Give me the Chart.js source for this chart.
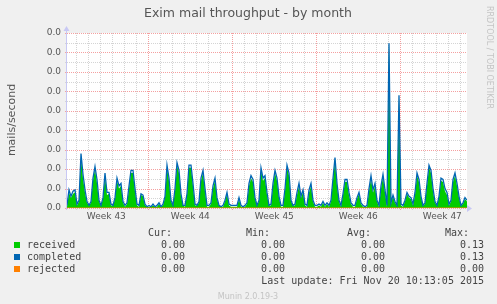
<!DOCTYPE html>
<html>
<head>
<meta charset="utf-8">
<script src="https://cdn.jsdelivr.net/npm/chart.js@4"></script>
<style>
  body { margin: 0; background: #f0f0f0; }
  #wrap { width: 497px; height: 304px; }
</style>
</head>
<body>
<div id="wrap"><canvas id="chartCanvas" width="497" height="304"></canvas></div>
<script>
// samples every 4 hours, starting at the left edge of the graph (days since start)
const SAMPLES_PER_DAY = 6;
const DAYS_SHOWN = 200 / SAMPLES_PER_DAY;
const FIRST_WEEK_START = 6.78; // first Monday 00:00, in days after graph start

const weekLabels = ['Week 43', 'Week 44', 'Week 45', 'Week 46', 'Week 47'];
const yTicks = [0, 0.015, 0.03, 0.045, 0.06, 0.075, 0.09, 0.105, 0.12, 0.135];
// munin prints every tick with one decimal, so they all read 0.0
const yTickLabels = ['0.0', '0.0', '0.0', '0.0', '0.0', '0.0', '0.0', '0.0', '0.0', '0.0'];

const received = [
  0.001, 0.012, 0.008, 0.011, 0.012, 0.002, 0.005, 0.039, 0.023, 0.012,
  0.004, 0.002, 0.004, 0.021, 0.030, 0.019, 0.005, 0.002, 0.007, 0.025,
  0.010, 0.011, 0.002, 0.002, 0.007, 0.021, 0.015, 0.017, 0.004, 0.001,
  0.003, 0.015, 0.027, 0.027, 0.013, 0.002, 0.001, 0.010, 0.009, 0.002,
  0.001, 0.001, 0.001, 0.002, 0.001, 0.001, 0.003, 0.001, 0.002, 0.008,
  0.031, 0.021, 0.005, 0.002, 0.013, 0.033, 0.027, 0.009, 0.002, 0.001,
  0.010, 0.031, 0.031, 0.017, 0.002, 0.002, 0.004, 0.021, 0.027, 0.013,
  0.001, 0.001, 0.003, 0.015, 0.021, 0.007, 0.002, 0.001, 0.001, 0.005,
  0.011, 0.002, 0.001, 0.001, 0.001, 0.001, 0.007, 0.001, 0.001, 0.001,
  0.003, 0.017, 0.023, 0.020, 0.007, 0.002, 0.005, 0.029, 0.021, 0.023,
  0.010, 0.002, 0.002, 0.017, 0.027, 0.021, 0.008, 0.001, 0.001, 0.013,
  0.031, 0.025, 0.005, 0.002, 0.002, 0.010, 0.017, 0.008, 0.012, 0.002,
  0.001, 0.012, 0.017, 0.005, 0.001, 0.001, 0.002, 0.001, 0.004, 0.001,
  0.003, 0.001, 0.005, 0.021, 0.037, 0.017, 0.005, 0.001, 0.010, 0.020,
  0.020, 0.010, 0.003, 0.001, 0.001, 0.007, 0.011, 0.003, 0.001, 0.001,
  0.001, 0.013, 0.023, 0.012, 0.017, 0.005, 0.001, 0.015, 0.024, 0.012,
  0.001, 0.127, 0.003, 0.009, 0.004, 0.002, 0.085, 0.002, 0.001, 0.005,
  0.011, 0.008, 0.007, 0.002, 0.010, 0.025, 0.020, 0.008, 0.002, 0.003,
  0.017, 0.031, 0.027, 0.013, 0.004, 0.002, 0.008, 0.021, 0.020, 0.013,
  0.010, 0.002, 0.005, 0.020, 0.025, 0.017, 0.008, 0.002, 0.003, 0.007,
  0.005
];

const completed = [
  0.002, 0.014, 0.009, 0.013, 0.014, 0.003, 0.006, 0.042, 0.026, 0.014,
  0.005, 0.002, 0.005, 0.023, 0.032, 0.022, 0.006, 0.002, 0.008, 0.027,
  0.012, 0.012, 0.003, 0.002, 0.008, 0.023, 0.017, 0.019, 0.005, 0.002,
  0.004, 0.017, 0.029, 0.029, 0.015, 0.003, 0.002, 0.011, 0.010, 0.003,
  0.001, 0.002, 0.001, 0.003, 0.001, 0.002, 0.004, 0.001, 0.003, 0.009,
  0.033, 0.023, 0.006, 0.002, 0.015, 0.035, 0.029, 0.011, 0.002, 0.002,
  0.011, 0.033, 0.033, 0.019, 0.003, 0.002, 0.005, 0.023, 0.029, 0.015,
  0.002, 0.002, 0.004, 0.017, 0.023, 0.008, 0.002, 0.001, 0.002, 0.006,
  0.012, 0.003, 0.002, 0.002, 0.002, 0.002, 0.008, 0.002, 0.001, 0.002,
  0.004, 0.019, 0.025, 0.022, 0.008, 0.002, 0.006, 0.031, 0.023, 0.025,
  0.012, 0.002, 0.003, 0.019, 0.029, 0.023, 0.009, 0.002, 0.002, 0.015,
  0.033, 0.027, 0.006, 0.002, 0.003, 0.012, 0.019, 0.009, 0.014, 0.003,
  0.002, 0.014, 0.019, 0.006, 0.002, 0.002, 0.003, 0.002, 0.005, 0.002,
  0.004, 0.002, 0.006, 0.023, 0.039, 0.019, 0.006, 0.002, 0.011, 0.022,
  0.022, 0.012, 0.004, 0.002, 0.002, 0.008, 0.012, 0.004, 0.002, 0.001,
  0.002, 0.015, 0.025, 0.014, 0.019, 0.006, 0.002, 0.017, 0.026, 0.014,
  0.002, 0.127, 0.004, 0.010, 0.005, 0.002, 0.087, 0.003, 0.002, 0.006,
  0.012, 0.009, 0.008, 0.003, 0.012, 0.027, 0.022, 0.009, 0.002, 0.004,
  0.019, 0.033, 0.029, 0.015, 0.005, 0.002, 0.009, 0.023, 0.022, 0.015,
  0.012, 0.003, 0.006, 0.022, 0.027, 0.019, 0.009, 0.002, 0.004, 0.008,
  0.006
];

const rejected = [
  0, 0, 0, 0, 0, 0, 0, 0, 0, 0, 0, 0, 0, 0, 0, 0, 0, 0, 0, 0,
  0, 0, 0, 0, 0, 0, 0, 0, 0, 0, 0, 0, 0, 0, 0, 0, 0, 0, 0, 0,
  0, 0, 0, 0, 0, 0, 0, 0, 0, 0, 0, 0, 0, 0, 0, 0, 0, 0, 0, 0,
  0, 0, 0, 0, 0, 0, 0, 0, 0, 0, 0, 0, 0, 0, 0, 0, 0, 0, 0, 0,
  0, 0, 0, 0, 0, 0, 0, 0, 0, 0, 0, 0, 0, 0, 0, 0, 0, 0, 0, 0,
  0, 0, 0, 0, 0, 0, 0, 0, 0, 0, 0, 0, 0, 0, 0, 0, 0, 0, 0, 0,
  0, 0, 0, 0, 0, 0, 0, 0, 0, 0, 0, 0, 0, 0, 0, 0, 0, 0, 0, 0,
  0, 0, 0, 0, 0, 0, 0, 0, 0, 0, 0, 0, 0, 0, 0, 0, 0, 0, 0, 0,
  0, 0, 0, 0, 0, 0, 0, 0, 0, 0, 0, 0, 0, 0, 0, 0, 0, 0, 0, 0,
  0, 0, 0, 0, 0, 0, 0, 0, 0, 0, 0, 0, 0, 0, 0, 0, 0, 0, 0, 0,
  0
];

const seriesNames = ['received', 'completed', 'rejected'];
const seriesColors = ['#00cc00', '#0066b3', '#ff8000'];
const statCur = ['0.00', '0.00', '0.00'];
const statMin = ['0.00', '0.00', '0.00'];
const statAvg = ['0.00', '0.00', '0.00'];
const statMax = ['0.13', '0.13', '0.00'];

const toPoints = arr => arr.map((v, i) => ({ x: i / SAMPLES_PER_DAY, y: v }));

function dotted(ctx, x1, y1, x2, y2, color) {
    ctx.strokeStyle = color;
    ctx.beginPath();
    ctx.moveTo(x1, y1);
    ctx.lineTo(x2, y2);
    ctx.stroke();
}

const muninDecor = {
    id: 'muninDecor',
    beforeDraw(chart) {
        const { ctx, chartArea: a } = chart;
        ctx.save();
        ctx.fillStyle = '#f0f0f0';
        ctx.fillRect(0, 0, chart.width, chart.height);
        ctx.fillStyle = '#ffffff';
        ctx.fillRect(a.left, a.top, a.right - a.left, a.bottom - a.top);
        ctx.restore();
    },
    beforeDatasetsDraw(chart) {
        const { ctx, chartArea: a, scales: { x, y } } = chart;
        ctx.save();
        ctx.lineWidth = 1;
        ctx.setLineDash([1, 1]);
        // minor: one line per day, half steps on y
        for (let d = FIRST_WEEK_START % 1; d < DAYS_SHOWN; d += 1) {
            const px = Math.round(x.getPixelForValue(d)) + 0.5;
            dotted(ctx, px, a.top, px, a.bottom + 2, '#d4d4d4');
        }
        for (let i = 0; i < yTicks.length - 1; i++) {
            const py = Math.round(y.getPixelForValue((yTicks[i] + yTicks[i + 1]) / 2)) + 0.5;
            dotted(ctx, a.left - 2, py, a.right, py, '#d4d4d4');
        }
        // major: week boundaries and y ticks
        for (let d = FIRST_WEEK_START; d < DAYS_SHOWN; d += 7) {
            const px = Math.round(x.getPixelForValue(d)) + 0.5;
            dotted(ctx, px, a.top, px, a.bottom + 2, '#f4a0a0');
        }
        yTicks.forEach(t => {
            const py = Math.round(y.getPixelForValue(t)) + 0.5;
            dotted(ctx, a.left - 2, py, a.right, py, '#f4a0a0');
        });
        ctx.restore();
    },
    afterDraw(chart) {
        const { ctx, chartArea: a } = chart;
        ctx.save();
        // axes with arrows
        ctx.strokeStyle = '#c8c8f4';
        ctx.fillStyle = '#c8c8f4';
        ctx.lineWidth = 1;
        ctx.beginPath();
        ctx.moveTo(a.left - 0.5, a.bottom + 2);
        ctx.lineTo(a.left - 0.5, a.top - 3);
        ctx.stroke();
        ctx.beginPath();
        ctx.moveTo(a.left - 3.5, a.top - 2);
        ctx.lineTo(a.left - 0.5, a.top - 7);
        ctx.lineTo(a.left + 2.5, a.top - 2);
        ctx.fill();
        ctx.beginPath();
        ctx.moveTo(a.right, a.bottom - 3);
        ctx.lineTo(a.right + 5, a.bottom + 0.5);
        ctx.lineTo(a.right, a.bottom + 4);
        ctx.fill();

        // title
        ctx.fillStyle = '#555555';
        ctx.font = '12.5px "DejaVu Sans"';
        ctx.textAlign = 'center';
        ctx.textBaseline = 'middle';
        ctx.fillText('Exim mail throughput - by month', 248, 14);

        // vertical axis label
        ctx.save();
        ctx.translate(12, 120);
        ctx.rotate(-Math.PI / 2);
        ctx.font = '11px "DejaVu Sans"';
        ctx.fillText('mails/second', 0, 0);
        ctx.restore();

        // rrdtool credit
        ctx.save();
        ctx.translate(489, 6);
        ctx.rotate(Math.PI / 2);
        ctx.textAlign = 'left';
        ctx.fillStyle = '#c4c4c4';
        ctx.font = '8px "DejaVu Sans"';
        ctx.fillText('RRDTOOL / TOBI OETIKER', 0, 0);
        ctx.restore();

        // legend and stats table
        ctx.font = '10px "DejaVu Sans Mono"';
        ctx.fillStyle = '#444444';
        ctx.textAlign = 'right';
        ctx.fillText('Cur:', 172, 233);
        ctx.fillText('Min:', 270, 233);
        ctx.fillText('Avg:', 371, 233);
        ctx.fillText('Max:', 469, 233);
        seriesNames.forEach((name, i) => {
            const rowY = 245 + i * 12;
            ctx.fillStyle = seriesColors[i];
            ctx.fillRect(14, rowY - 3, 6, 6);
            ctx.fillStyle = '#444444';
            ctx.textAlign = 'left';
            ctx.fillText(name, 27, rowY);
            ctx.textAlign = 'right';
            ctx.fillText(statCur[i], 185, rowY);
            ctx.fillText(statMin[i], 285, rowY);
            ctx.fillText(statAvg[i], 385, rowY);
            ctx.fillText(statMax[i], 484, rowY);
        });
        ctx.fillText('Last update: Fri Nov 20 10:13:05 2015', 484, 281);

        ctx.textAlign = 'center';
        ctx.fillStyle = '#c4c4c4';
        ctx.font = '8px "DejaVu Sans"';
        ctx.fillText('Munin 2.0.19-3', 248, 297);
        ctx.restore();
    }
};

new Chart(document.getElementById('chartCanvas').getContext('2d'), {
    type: 'line',
    data: {
        datasets: [
            {
                label: seriesNames[2], data: toPoints(rejected),
                borderColor: seriesColors[2], borderWidth: 1, order: 1
            },
            {
                label: seriesNames[1], data: toPoints(completed),
                borderColor: seriesColors[1], borderWidth: 1.3, order: 2
            },
            {
                label: seriesNames[0], data: toPoints(received),
                borderColor: 'rgba(0,0,0,0)', borderWidth: 0,
                backgroundColor: seriesColors[0], fill: 'origin', order: 3
            }
        ]
    },
    options: {
        responsive: false,
        animation: false,
        layout: { padding: { left: 0, top: 33, right: 30, bottom: 0 } },
        elements: { point: { radius: 0 }, line: { tension: 0 } },
        plugins: { legend: { display: false }, tooltip: { enabled: false } },
        scales: {
            x: {
                type: 'linear', min: 0, max: DAYS_SHOWN,
                grid: { display: false, drawTicks: false }, border: { display: false },
                afterFit: s => { s.height = 96; },
                afterBuildTicks: s => {
                    s.ticks = weekLabels.map((_, k) => ({ value: FIRST_WEEK_START - 3.5 + 7 * k }));
                },
                ticks: {
                    autoSkip: false, maxRotation: 0, padding: 3,
                    color: '#555555', font: { family: 'DejaVu Sans', size: 9 },
                    callback: (v, i) => weekLabels[i]
                }
            },
            y: {
                min: 0, max: yTicks[yTicks.length - 1],
                grid: { display: false, drawTicks: false }, border: { display: false },
                afterFit: s => { s.width = 67; },
                afterBuildTicks: s => { s.ticks = yTicks.map(v => ({ value: v })); },
                ticks: {
                    padding: 6, color: '#555555',
                    font: { family: 'DejaVu Sans', size: 9 },
                    callback: (v, i) => yTickLabels[i]
                }
            }
        }
    },
    plugins: [muninDecor]
});
</script>
</body>
</html>
